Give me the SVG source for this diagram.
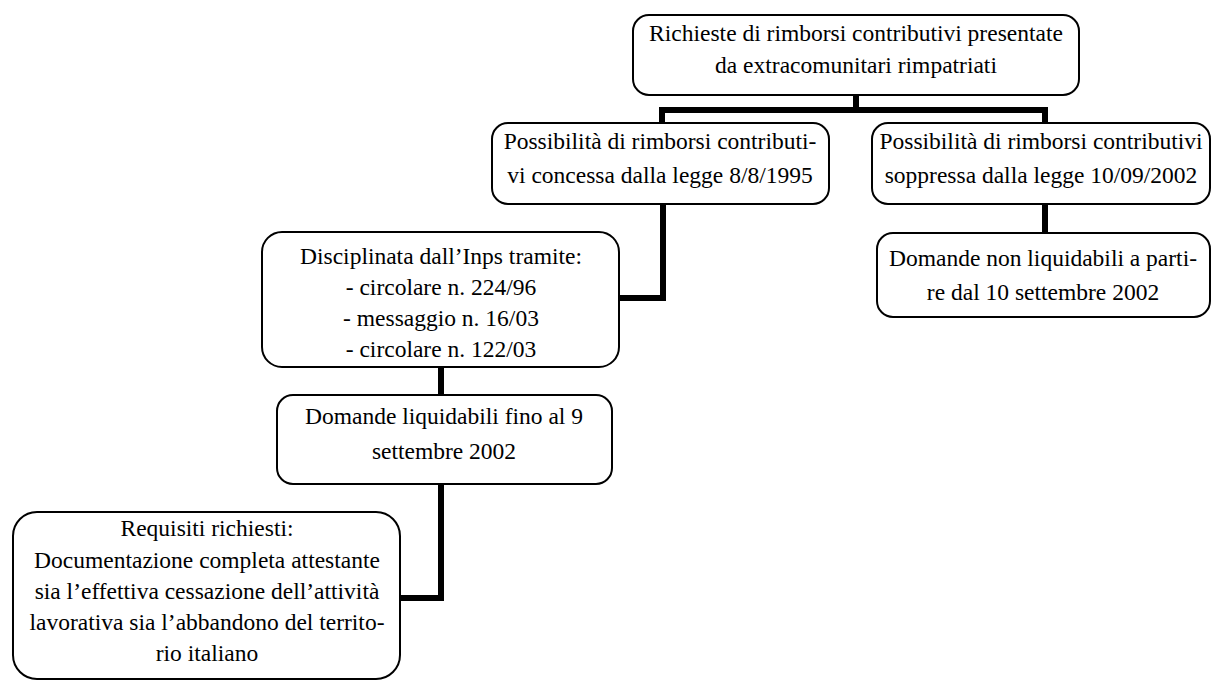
<svg xmlns="http://www.w3.org/2000/svg" width="1212" height="680" viewBox="0 0 1212 680">
<style>
.box{fill:#fff;stroke:#000;stroke-width:2}
.t{font-family:'Liberation Serif','Times New Roman',serif;font-size:23.5px;fill:#000;text-anchor:middle}
.c{fill:none;stroke:#000;stroke-width:6;stroke-linejoin:miter}
</style>
<rect width="1212" height="680" fill="#fff"/>
<g id="connectors">
<path class="c" d="M856,95 V110 M662,123 V110 H1045 V123"/>
<path class="c" d="M663,204 V298 H619"/>
<path class="c" d="M1045,204 V233"/>
<path class="c" d="M441,367 V395"/>
<path class="c" d="M441,484 V598 H400"/>
</g>
<g id="n1">
<rect class="box" x="633" y="15" width="446" height="80" rx="16"/>
<text class="t" x="856" y="41">Richieste di rimborsi contributivi presentate</text>
<text class="t" x="856" y="73">da extracomunitari rimpatriati</text>
</g>
<g id="n2">
<rect class="box" x="492" y="123" width="337" height="81" rx="16"/>
<text class="t" x="660" y="149">Possibilità di rimborsi contributi-</text>
<text class="t" x="660" y="183">vi concessa dalla legge 8/8/1995</text>
</g>
<g id="n3">
<rect class="box" x="872" y="123" width="338" height="81" rx="16"/>
<text class="t" x="1041" y="149">Possibilità di rimborsi contributivi</text>
<text class="t" x="1041" y="183">soppressa dalla legge 10/09/2002</text>
</g>
<g id="n4">
<rect class="box" x="877" y="233" width="333" height="84" rx="16"/>
<text class="t" x="1043" y="266">Domande non liquidabili a parti-</text>
<text class="t" x="1043" y="300">re dal 10 settembre 2002</text>
</g>
<g id="n5">
<rect class="box" x="262" y="232" width="357" height="135" rx="20"/>
<text class="t" x="441" y="264">Disciplinata dall’Inps tramite:</text>
<text class="t" x="441" y="295">- circolare n. 224/96</text>
<text class="t" x="441" y="326">- messaggio n. 16/03</text>
<text class="t" x="441" y="357">- circolare n. 122/03</text>
</g>
<g id="n6">
<rect class="box" x="277" y="395" width="335" height="89" rx="16"/>
<text class="t" x="444" y="424">Domande liquidabili fino al 9</text>
<text class="t" x="444" y="459">settembre 2002</text>
</g>
<g id="n7">
<rect class="box" x="13" y="512" width="387" height="167" rx="24"/>
<text class="t" x="207" y="536">Requisiti richiesti:</text>
<text class="t" x="207" y="568">Documentazione completa attestante</text>
<text class="t" x="207" y="599">sia l’effettiva cessazione dell’attività</text>
<text class="t" x="207" y="630">lavorativa sia l’abbandono del territo-</text>
<text class="t" x="207" y="661">rio italiano</text>
</g>
</svg>
